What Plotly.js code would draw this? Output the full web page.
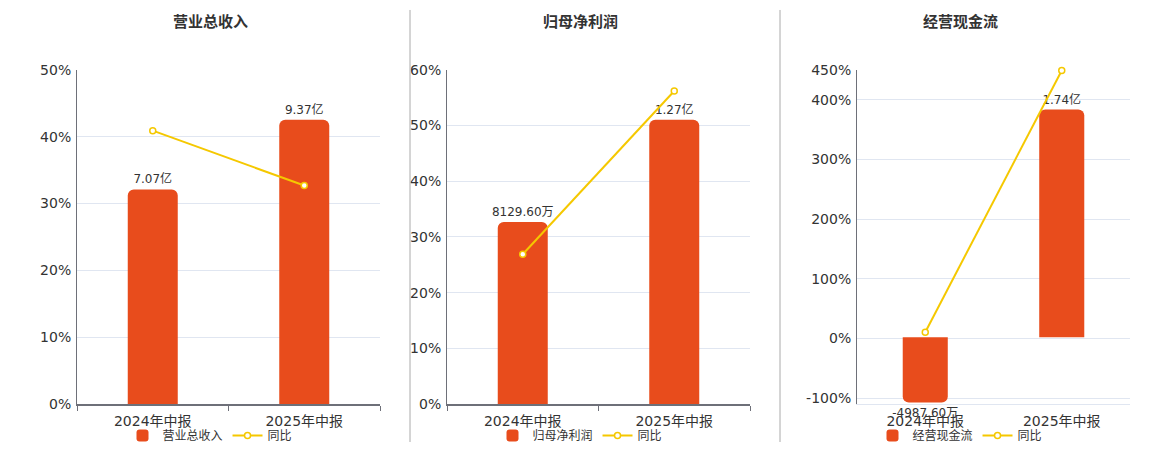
<!DOCTYPE html>
<html>
<head>
<meta charset="utf-8">
<script src="https://cdn.plot.ly/plotly-3.0.1.min.js"></script>
<style>
  html, body { margin: 0; padding: 0; background: #fff; }
  #myDiv { width: 1160px; height: 450px; }
</style>
</head>
<body>
<div id="myDiv"></div>
<script>
var periods = ['2024年中报', '2025年中报'];
var titles = ['营业总收入', '归母净利润', '经营现金流'];

// bar values in 亿
var revenue = [7.07, 9.37];
var netProfit = [0.812960, 1.27];
var cashFlow = [-0.498760, 1.74];
var revenueText = ['7.07亿', '9.37亿'];
var netProfitText = ['8129.60万', '1.27亿'];
var cashFlowText = ['-4987.60万', '1.74亿'];

// 同比 in %
var revenueYoy = [40.9, 32.7];
var netProfitYoy = [26.9, 56.2];
var cashFlowYoy = [10.5, 449];

var barColor = '#e84c1c';
var lineColor = '#f5c800';
var gridColor = '#e0e6f1';
var axisColor = '#6e7079';
var font = 'DejaVu Sans, "Noto Sans CJK SC", sans-serif';

var bars = [revenue, netProfit, cashFlow];
var barTexts = [revenueText, netProfitText, cashFlowText];
var yoys = [revenueYoy, netProfitYoy, cashFlowYoy];

var data = [];
for (var i = 0; i < 3; i++) {
  var n = i + 1;
  var legendId = n === 1 ? 'legend' : 'legend' + n;
  var xa = n === 1 ? 'x' : 'x' + n;
  data.push({
    x: periods,
    y: bars[i],
    text: barTexts[i],
    type: 'bar',
    name: titles[i],
    xaxis: xa,
    yaxis: n === 1 ? 'y' : 'y' + n,
    width: 0.33,
    marker: {color: barColor},
    textposition: 'outside',
    constraintext: 'none',
    textfont: {size: 12, color: '#333'},
    cliponaxis: false,
    hoverinfo: 'skip',
    legend: legendId
  });
  data.push({
    x: periods,
    y: yoys[i],
    type: 'scatter',
    mode: 'lines+markers',
    name: '同比',
    xaxis: xa,
    yaxis: 'y' + (n + 3),
    line: {color: lineColor, width: 2},
    marker: {symbol: 'circle', size: 6, color: '#fff', line: {color: lineColor, width: 1.5}},
    cliponaxis: false,
    legend: legendId
  });
}

var xDomains = [[77 / 1160, 380 / 1160], [447 / 1160, 750 / 1160], [857 / 1160, 1130 / 1160]];
var yDomain = [45 / 450, 380 / 450];

function xAxis(d, showLine) {
  return {
    domain: d,
    type: 'category',
    range: [-0.5, 1.5],
    showline: showLine,
    linecolor: axisColor,
    linewidth: 1.5,
    ticks: showLine ? 'outside' : '',
    tickson: 'boundaries',
    ticklen: 5,
    tickcolor: axisColor,
    showgrid: false,
    ticklabelstandoff: 4,
    tickfont: {size: 14, color: '#333'},
    fixedrange: true
  };
}

function pctAxis(over, anchor, range, tickvals) {
  return {
    domain: yDomain,
    overlaying: over,
    anchor: anchor,
    side: 'left',
    range: range,
    tickvals: tickvals,
    ticktext: tickvals.map(function (v) { return v + '%'; }),
    showline: true,
    linecolor: axisColor,
    linewidth: 1,
    showgrid: true,
    gridcolor: gridColor,
    zeroline: false,
    ticks: '',
    ticklabelstandoff: 2,
    tickfont: {size: 14, color: '#333'},
    fixedrange: true
  };
}

function barAxis(anchor, range) {
  return {
    domain: yDomain,
    anchor: anchor,
    range: range,
    visible: false,
    fixedrange: true
  };
}

var legendBase = {xanchor: 'center', y: 14 / 450, yanchor: 'middle', orientation: 'h', font: {size: 12, color: '#333'}, bgcolor: 'rgba(0,0,0,0)'};

var layout = {
  width: 1160,
  height: 450,
  margin: {l: 0, r: 0, t: 0, b: 0},
  paper_bgcolor: '#fff',
  plot_bgcolor: '#fff',
  font: {family: font, color: '#333'},
  showlegend: true,
  barcornerradius: 6,
  xaxis: xAxis(xDomains[0], true),
  xaxis2: xAxis(xDomains[1], true),
  xaxis3: Object.assign(xAxis(xDomains[2], false), {showline: true, linecolor: gridColor, linewidth: 1}),
  xaxis7: {
    domain: xDomains[2],
    anchor: 'free',
    overlaying: 'x3',
    position: yDomain[0] + (yDomain[1] - yDomain[0]) * (110 / 560),
    range: [-0.5, 1.5],
    tickvals: [-0.5, 0.5, 1.5],
    showticklabels: false,
    showline: true,
    linecolor: axisColor,
    linewidth: 1.5,
    ticks: 'outside',
    ticklen: 5,
    tickcolor: axisColor,
    showgrid: false,
    zeroline: false,
    fixedrange: true
  },
  yaxis: barAxis('x', [0, 11.01]),
  yaxis2: barAxis('x2', [0, 1.493]),
  yaxis3: barAxis('x3', [-0.5108, 2.0432]),
  yaxis4: pctAxis('y', 'x', [0, 50], [0, 10, 20, 30, 40, 50]),
  yaxis5: pctAxis('y2', 'x2', [0, 60], [0, 10, 20, 30, 40, 50, 60]),
  yaxis6: pctAxis('y3', 'x3', [-110, 450], [-100, 0, 100, 200, 300, 400, 450]),
  legend: Object.assign({x: 210 / 1160}, legendBase),
  legend2: Object.assign({x: 580 / 1160}, legendBase),
  legend3: Object.assign({x: 960 / 1160}, legendBase),
  annotations: titles.map(function (t, k) {
    return {text: '<b>' + t + '</b>', x: [210, 580, 960][k] / 1160, xanchor: 'center', y: 1 - 22 / 450, yanchor: 'middle',
      xref: 'paper', yref: 'paper', showarrow: false, font: {size: 15, color: '#333'}};
  }),
  shapes: [
    {type: 'line', xref: 'paper', yref: 'paper', x0: 410 / 1160, x1: 410 / 1160, y0: 1 - 10 / 450, y1: 1 - 443 / 450, line: {color: '#aaa', width: 1}},
    {type: 'line', xref: 'paper', yref: 'paper', x0: 780 / 1160, x1: 780 / 1160, y0: 1 - 10 / 450, y1: 1 - 443 / 450, line: {color: '#aaa', width: 1}}
  ]
};

Plotly.newPlot('myDiv', data, layout, {displayModeBar: false, staticPlot: true});
</script>
</body>
</html>
